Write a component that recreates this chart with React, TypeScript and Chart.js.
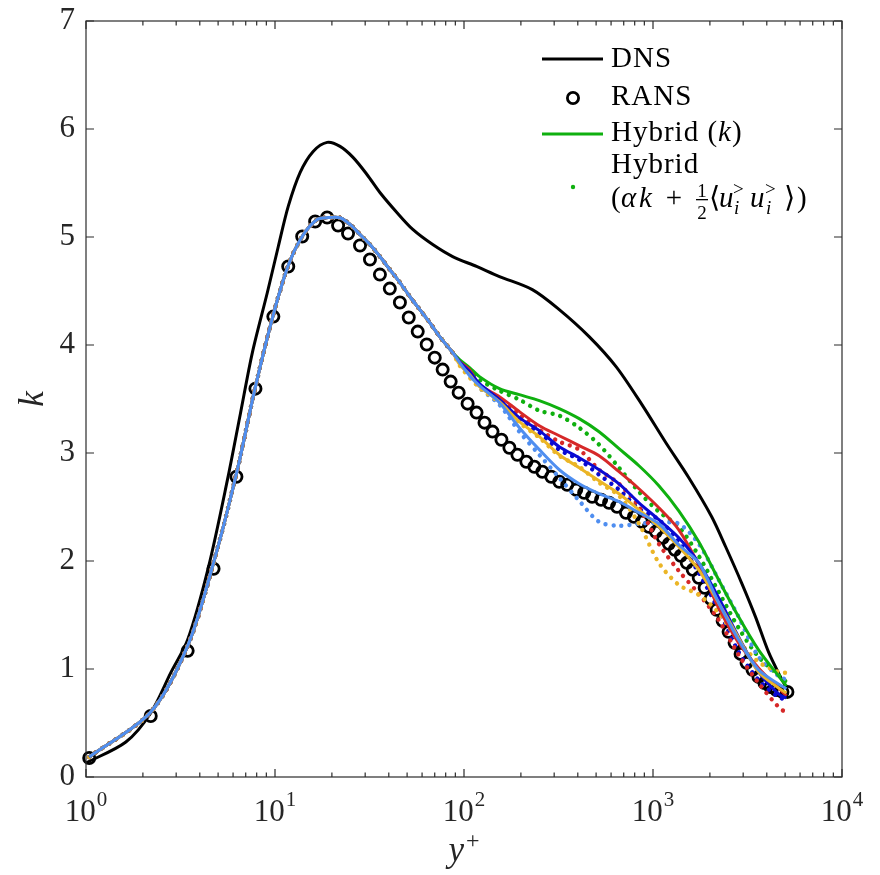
import { useEffect, useRef } from 'react';
import { Chart, registerables } from 'chart.js';

Chart.register(...registerables);

const W = 880;
const H = 875;

// ---- DNS reference profile ----
const dnsYPlus = [1.0, 1.625, 2.2, 2.806, 3.45, 4.45, 5.605, 6.56, 7.59, 9.11, 10.41, 11.75, 13.59, 15.92, 18.87, 22.09, 25.87, 30.66, 35.9, 44.14, 53.58, 68.32, 87.1, 116.5, 154.0, 229.9, 319.2, 459.2, 637.6, 874, 1170, 1547, 2044, 2423, 2942, 3486, 4083, 4724, 5019];
const dnsK = [0.13, 0.324, 0.593, 0.964, 1.27, 1.946, 2.753, 3.364, 3.93, 4.486, 4.912, 5.283, 5.598, 5.792, 5.876, 5.839, 5.737, 5.579, 5.412, 5.227, 5.07, 4.93, 4.819, 4.727, 4.634, 4.513, 4.328, 4.078, 3.8, 3.448, 3.095, 2.771, 2.41, 2.132, 1.798, 1.483, 1.158, 0.927, 0.843];

// ---- RANS solution on its own grid ----
const ransYPlus = [1.04, 2.2, 3.45, 4.73, 6.25, 7.88, 9.8, 11.75, 13.93, 16.31, 18.87, 21.57, 24.35, 28.17, 31.8, 35.9, 40.5, 45.8, 51.0, 56.9, 63.5, 70.0, 77.1, 85.0, 93.7, 104.5, 116.5, 128.4, 141.5, 157.8, 173.9, 191.7, 213.8, 235.6, 259.7, 289.6, 319.2, 351.7, 392.4, 432.3, 476.5, 531.4, 585.6, 645.3, 719.6, 793.0, 874.0, 951.5, 1036, 1128, 1213, 1305, 1403, 1509, 1623, 1746, 1877, 2020, 2172, 2336, 2512, 2702, 2907, 3126, 3362, 3616, 3890, 4183, 4498, 4839, 5142];
const ransK = [0.176, 0.565, 1.168, 1.928, 2.78, 3.596, 4.263, 4.727, 5.005, 5.144, 5.181, 5.107, 5.032, 4.921, 4.791, 4.652, 4.522, 4.393, 4.254, 4.124, 4.004, 3.883, 3.772, 3.661, 3.559, 3.457, 3.374, 3.281, 3.198, 3.123, 3.049, 2.984, 2.919, 2.873, 2.827, 2.78, 2.734, 2.706, 2.66, 2.632, 2.595, 2.567, 2.539, 2.502, 2.447, 2.41, 2.363, 2.317, 2.271, 2.215, 2.159, 2.104, 2.048, 1.983, 1.918, 1.844, 1.752, 1.65, 1.548, 1.446, 1.344, 1.242, 1.14, 1.057, 0.992, 0.927, 0.871, 0.834, 0.806, 0.788, 0.788];

// ---- Hybrid runs: shared near-wall part ----
const wallYPlus = [1.04, 2.2, 3.45, 4.73, 6.25, 7.88, 9.8, 11.75, 13.93, 16.71, 19.1, 22.09, 24.94, 28.17, 31.8, 35.9, 40.5, 45.8, 51.67, 58.34, 65.87, 74.37, 87.1];
const wallK = [0.185, 0.602, 1.214, 1.983, 2.808, 3.614, 4.282, 4.736, 5.005, 5.162, 5.18, 5.178, 5.116, 5.023, 4.93, 4.819, 4.699, 4.578, 4.449, 4.328, 4.208, 4.078, 3.93];

// ---- Hybrid runs: outer part, modelled k (solid lines) ----
const outerYPlus = [94.8, 107, 120.8, 154, 196.4, 250.3, 319.2, 406.8, 518.5, 661, 842.8, 1074, 1369, 1746, 2225, 2837, 3616, 4610, 5080];
const greenK = [3.865, 3.791, 3.707, 3.596, 3.54, 3.485, 3.411, 3.318, 3.197, 3.04, 2.882, 2.697, 2.465, 2.178, 1.826, 1.483, 1.177, 0.936, 0.843];
const redK = [3.846, 3.772, 3.633, 3.522, 3.383, 3.253, 3.16, 3.068, 2.975, 2.827, 2.669, 2.493, 2.289, 1.965, 1.566, 1.242, 1.01, 0.825, 0.751];
const blueK = [3.846, 3.754, 3.642, 3.494, 3.327, 3.207, 3.058, 2.956, 2.845, 2.715, 2.539, 2.382, 2.215, 1.983, 1.659, 1.297, 0.973, 0.769, 0.732];
const yellowK = [3.818, 3.726, 3.614, 3.475, 3.29, 3.151, 2.984, 2.864, 2.743, 2.623, 2.474, 2.317, 2.132, 1.918, 1.613, 1.288, 0.973, 0.825, 0.778];
const skyK = [3.837, 3.716, 3.624, 3.466, 3.234, 3.031, 2.845, 2.715, 2.623, 2.549, 2.447, 2.345, 2.15, 1.983, 1.613, 1.27, 0.992, 0.862, 0.816];

// ---- Hybrid runs: outer part, alpha*k + resolved part (dotted) ----
const totalYPlus = [94.8, 120.8, 154, 196.4, 250.3, 319.2, 406.8, 518.5, 661, 842.8, 1074, 1369, 1746, 2225, 2837, 3616, 4610, 5080];
const greenTot = [3.846, 3.679, 3.577, 3.494, 3.392, 3.346, 3.234, 3.077, 2.864, 2.641, 2.456, 2.317, 2.048, 1.715, 1.381, 1.112, 0.945, 0.88];
const redTot = [3.837, 3.624, 3.494, 3.355, 3.216, 3.105, 3.031, 2.845, 2.715, 2.502, 2.159, 1.909, 1.696, 1.455, 1.131, 0.871, 0.649, 0.593];
const blueTot = [3.837, 3.633, 3.485, 3.309, 3.188, 3.031, 2.938, 2.799, 2.66, 2.484, 2.382, 2.178, 1.891, 1.548, 1.158, 0.899, 0.741, 0.714];
const yellowTot = [3.809, 3.605, 3.466, 3.281, 3.142, 2.975, 2.873, 2.725, 2.604, 2.345, 1.983, 1.779, 1.687, 1.52, 1.26, 1.066, 0.973, 0.964];
const skyTot = [3.828, 3.605, 3.447, 3.197, 2.984, 2.771, 2.558, 2.363, 2.326, 2.345, 2.354, 2.345, 2.159, 1.826, 1.483, 1.112, 0.936, 0.899];

// ---- axes ----
const yTicks = [0, 1, 2, 3, 4, 5, 6, 7];
const xDecadeExponents = [0, 1, 2, 3, 4];
const xMinorFactors = [2, 3, 4, 5, 6, 7, 8, 9];

const C_GREEN = '#0fb00f';
const C_RED = '#d62828';
const C_BLUE = '#0a0ad2';
const C_YELLOW = '#ebb526';
const C_SKY = '#4f8ef0';

const SERIF = '"Liberation Serif", "Times New Roman", serif';

const pts = (xs: number[], ys: number[]) => xs.map((x, i) => ({ x, y: ys[i] }));

const solid = (color: string, k: number[], order: number) => ({
  data: pts([...wallYPlus, ...outerYPlus], [...wallK, ...k]),
  borderColor: color,
  borderWidth: 3,
  pointRadius: 0,
  tension: 0.3,
  clip: false,
  order,
});

const dotted = (color: string, k: number[], order: number) => ({
  data: pts([...wallYPlus, ...totalYPlus], [...wallK, ...k]),
  borderColor: color,
  borderWidth: 4.4,
  borderCapStyle: 'round',
  borderDash: [0.001, 8],
  pointRadius: 0,
  tension: 0.3,
  clip: false,
  order,
});

const framePlugin = {
  id: 'frame',
  afterDatasetsDraw(chart: any) {
    const { ctx, chartArea: a, scales } = chart;
    const xs = scales.x;
    const ys = scales.y;
    ctx.save();
    ctx.strokeStyle = '#2b2b2b';
    ctx.lineWidth = 1.2;
    ctx.strokeRect(a.left, a.top, a.right - a.left, a.bottom - a.top);

    // inward ticks on all four sides
    ctx.beginPath();
    for (const e of xDecadeExponents) {
      const px = xs.getPixelForValue(Math.pow(10, e));
      ctx.moveTo(px, a.bottom); ctx.lineTo(px, a.bottom - 8);
      ctx.moveTo(px, a.top); ctx.lineTo(px, a.top + 8);
      if (e < 4) {
        for (const m of xMinorFactors) {
          const mx = xs.getPixelForValue(m * Math.pow(10, e));
          ctx.moveTo(mx, a.bottom); ctx.lineTo(mx, a.bottom - 4.5);
          ctx.moveTo(mx, a.top); ctx.lineTo(mx, a.top + 4.5);
        }
      }
    }
    for (const t of yTicks) {
      const py = ys.getPixelForValue(t);
      ctx.moveTo(a.left, py); ctx.lineTo(a.left + 8, py);
      ctx.moveTo(a.right, py); ctx.lineTo(a.right - 8, py);
    }
    ctx.stroke();

    ctx.fillStyle = '#262626';
    ctx.font = `31px ${SERIF}`;
    ctx.textAlign = 'right';
    ctx.textBaseline = 'alphabetic';
    for (const t of yTicks) {
      const py = ys.getPixelForValue(t);
      ctx.fillText(String(t), a.left - 11, py + 8);
    }
    ctx.textAlign = 'left';
    for (const e of xDecadeExponents) {
      const px = xs.getPixelForValue(Math.pow(10, e));
      ctx.font = `31px ${SERIF}`;
      const wb = ctx.measureText('10').width;
      ctx.font = `21px ${SERIF}`;
      const we = ctx.measureText(String(e)).width;
      const x0 = px - (wb + we + 1) / 2;
      ctx.font = `31px ${SERIF}`;
      ctx.fillText('10', x0, a.bottom + 44);
      ctx.font = `21px ${SERIF}`;
      ctx.fillText(String(e), x0 + wb + 1, a.bottom + 29);
    }

    // axis titles
    const cx = (a.left + a.right) / 2;
    ctx.font = `italic 35px ${SERIF}`;
    const wy = ctx.measureText('y').width;
    ctx.font = `24px ${SERIF}`;
    const wp = ctx.measureText('+').width;
    const sx = cx - (wy + wp + 2) / 2;
    ctx.font = `italic 35px ${SERIF}`;
    ctx.fillText('y', sx, 861);
    ctx.font = `24px ${SERIF}`;
    ctx.fillText('+', sx + wy + 2, 848);

    ctx.save();
    ctx.translate(43, (a.top + a.bottom) / 2);
    ctx.rotate(-Math.PI / 2);
    ctx.font = `italic 35px ${SERIF}`;
    ctx.textAlign = 'center';
    ctx.fillText('k', 0, 0);
    ctx.restore();

    ctx.restore();
  },
};

const legendPlugin = {
  id: 'formulaLegend',
  afterDraw(chart: any) {
    const { ctx } = chart;
    const reg = `29px ${SERIF}`;
    const ital = `italic 29px ${SERIF}`;
    const small = `19px ${SERIF}`;
    const smallItal = `italic 19px ${SERIF}`;
    const tx = 611;
    ctx.save();
    ctx.fillStyle = '#000';
    ctx.textAlign = 'left';
    ctx.textBaseline = 'alphabetic';
    ctx.letterSpacing = '1px';

    // DNS
    ctx.strokeStyle = '#000';
    ctx.lineWidth = 3;
    ctx.beginPath(); ctx.moveTo(542, 59); ctx.lineTo(603, 59); ctx.stroke();
    ctx.font = reg;
    ctx.fillText('DNS', tx, 67);

    // RANS
    ctx.lineWidth = 2.8;
    ctx.beginPath(); ctx.arc(573, 98, 5.6, 0, Math.PI * 2); ctx.stroke();
    ctx.fillText('RANS', tx, 105);

    // Hybrid (k)
    ctx.strokeStyle = C_GREEN;
    ctx.lineWidth = 3;
    ctx.beginPath(); ctx.moveTo(542, 134); ctx.lineTo(603, 134); ctx.stroke();
    let x = tx;
    const put = (s: string, font: string, base: number) => {
      ctx.font = font;
      ctx.fillText(s, x, base);
      x += ctx.measureText(s).width;
    };
    put('Hybrid (', reg, 141);
    put('k', ital, 141);
    put(')', reg, 141);

    // Hybrid (alpha k + 1/2 <u_i^> u_i^>>)
    ctx.fillStyle = C_GREEN;
    ctx.beginPath(); ctx.arc(573, 187, 2.2, 0, Math.PI * 2); ctx.fill();
    ctx.fillStyle = '#000';
    ctx.font = reg;
    ctx.fillText('Hybrid', tx, 173);

    ctx.letterSpacing = '0px';
    const b = 207;
    const at = (s: string, font: string, px: number, base: number, align = 'left') => {
      ctx.font = font;
      ctx.textAlign = align;
      ctx.fillText(s, px, base);
    };
    at('(', reg, 611, b);
    at('α', ital, 621, b);
    at('k', ital, 639, b);
    at('+', reg, 674, b, 'center');
    at('1', small, 702, b - 10, 'center');
    at('2', small, 702, b + 12, 'center');
    ctx.fillRect(696, b - 8, 12, 1.3);
    at('⟨', reg, 709, b);
    at('u', ital, 719, b);
    at('>', small, 733, b - 12);
    at('i', smallItal, 734, b + 7);
    at('u', ital, 750, b);
    at('>', small, 765, b - 12);
    at('i', smallItal, 766, b + 7);
    at('⟩', reg, 784, b);
    at(')', reg, 797, b);
    ctx.restore();
  },
};

export default function App() {
  const ref = useRef<HTMLCanvasElement>(null);

  useEffect(() => {
    const canvas = ref.current;
    if (!canvas) return;
    const chart = new Chart(canvas, {
      type: 'line',
      data: {
        datasets: [
          {
            label: 'DNS',
            data: pts(dnsYPlus, dnsK),
            borderColor: '#000',
            borderWidth: 3,
            pointRadius: 0,
            tension: 0.3,
            clip: false,
            order: 100,
          },
          {
            label: 'RANS',
            data: pts(ransYPlus, ransK),
            showLine: false,
            pointStyle: 'circle',
            pointRadius: 5.6,
            pointBorderWidth: 2.8,
            pointBorderColor: '#000',
            pointBackgroundColor: 'rgba(0,0,0,0)',
            borderColor: '#000',
            clip: false,
            order: 95,
          },
          dotted(C_GREEN, greenTot, 90),
          dotted(C_SKY, skyTot, 89),
          dotted(C_BLUE, blueTot, 88),
          dotted(C_RED, redTot, 87),
          dotted(C_YELLOW, yellowTot, 86),
          solid(C_GREEN, greenK, 80),
          solid(C_RED, redK, 79),
          solid(C_BLUE, blueK, 78),
          solid(C_YELLOW, yellowK, 77),
          solid(C_SKY, skyK, 76),
        ] as any,
      },
      options: {
        animation: false,
        responsive: false,
        events: [],
        layout: { padding: { left: 86, right: W - 842, top: 21, bottom: H - 777 } },
        scales: {
          x: { type: 'logarithmic', min: 1, max: 10000, display: false },
          y: { type: 'linear', min: 0, max: 7, display: false },
        },
        plugins: { legend: { display: false }, tooltip: { enabled: false } },
      },
      plugins: [framePlugin, legendPlugin],
    });
    return () => chart.destroy();
  }, []);

  return (
    <div style={{ position: 'absolute', left: 0, top: 0, width: W, height: H, background: '#fff' }}>
      <canvas ref={ref} width={W} height={H} style={{ display: 'block' }} />
    </div>
  );
}
